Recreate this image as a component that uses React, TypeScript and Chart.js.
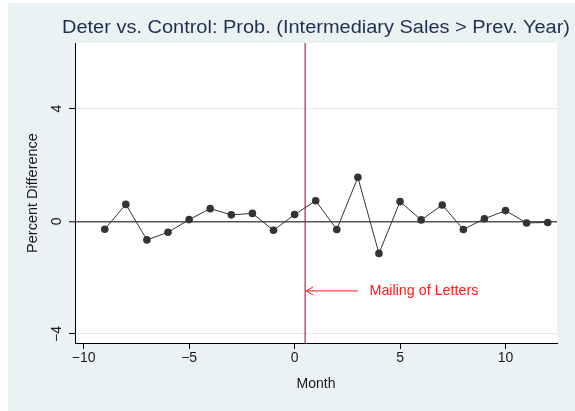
import React, { useEffect, useRef } from "react";
import { Chart, registerables } from "chart.js";

Chart.register(...registerables);

const TITLE = "Deter vs. Control: Prob. (Intermediary Sales > Prev. Year)";
const Y_TITLE = "Percent Difference";
const X_TITLE = "Month";
const ANNOT_TEXT = "Mailing of Letters";

const months = [-9, -8, -7, -6, -5, -4, -3, -2, -1, 0, 1, 2, 3, 4, 5, 6, 7, 8, 9, 10, 11, 12];
const pctDiff = [
  -0.28, 0.6, -0.66, -0.39, 0.06, 0.45, 0.23, 0.28, -0.32, 0.24, 0.73,
  -0.29, 1.56, -1.14, 0.7, 0.05, 0.58, -0.29, 0.09, 0.38, -0.06, -0.04,
];
const xTicks = [-10, -5, 0, 5, 10];
const yTicks = [-4, 0, 4];
const X_MIN = -10.41;
const X_MAX = 12.44;
const Y_MIN = -4.32;
const Y_MAX = 6.33;
const EVENT_MONTH = 0.5;
const ARROW_TAIL_X = 3.0;
const ANNOT_TEXT_X = 3.55;
const ANNOT_Y = -2.47;

const FONT = '"Liberation Sans", Arial, Helvetica, sans-serif';
const BG = "#eaf2f3";
const TITLE_COLOR = "#1f2f4f";
const TEXT_COLOR = "#1a1a1a";
const RED_LINE = "#c0203f";
const RED_TEXT = "#ff1a1a";
const SERIES = "#333333";

const minus = (v: number | string) => String(v).replace("-", "\u2212");

const annotPlugin = {
  id: "annotPlugin",
  beforeDraw(chart: any) {
    const { ctx, chartArea } = chart;
    ctx.save();
    ctx.fillStyle = "#ffffff";
    ctx.fillRect(chartArea.left, chartArea.top, chartArea.right - chartArea.left, chartArea.bottom - chartArea.top);
    ctx.restore();
  },
  beforeDatasetsDraw(chart: any) {
    const { ctx, chartArea, scales } = chart;
    const px = scales.x.getPixelForValue(EVENT_MONTH);
    ctx.save();
    ctx.strokeStyle = RED_LINE;
    ctx.lineWidth = 1.2;
    ctx.beginPath();
    ctx.moveTo(px, chartArea.top);
    ctx.lineTo(px, chartArea.bottom);
    ctx.stroke();
    ctx.restore();
  },
  afterDraw(chart: any) {
    const { ctx, chartArea, scales } = chart;
    const x = scales.x;
    const y = scales.y;
    const tip = x.getPixelForValue(EVENT_MONTH) + 1;
    const tail = x.getPixelForValue(ARROW_TAIL_X);
    const ay = y.getPixelForValue(ANNOT_Y);
    ctx.save();
    ctx.strokeStyle = RED_TEXT;
    ctx.lineWidth = 1;
    ctx.beginPath();
    ctx.moveTo(tail, ay);
    ctx.lineTo(tip, ay);
    ctx.moveTo(tip + 7, ay - 4);
    ctx.lineTo(tip, ay);
    ctx.lineTo(tip + 7, ay + 4);
    ctx.stroke();
    ctx.fillStyle = RED_TEXT;
    ctx.font = `14.3px ${FONT}`;
    ctx.textAlign = "left";
    ctx.textBaseline = "middle";
    ctx.fillText(ANNOT_TEXT, x.getPixelForValue(ANNOT_TEXT_X), ay);

    const cx = (chartArea.left + chartArea.right) / 2;
    const cy = (chartArea.top + chartArea.bottom) / 2;

    ctx.save();
    ctx.fillStyle = TITLE_COLOR;
    ctx.font = `18px ${FONT}`;
    ctx.textAlign = "center";
    ctx.translate(cx, 25);
    ctx.scale(1.11, 1);
    ctx.fillText(TITLE, 0, 0);
    ctx.restore();

    ctx.fillStyle = TEXT_COLOR;
    ctx.font = `14px ${FONT}`;
    ctx.textAlign = "center";
    ctx.fillText(X_TITLE, cx, 381);

    ctx.font = `14.5px ${FONT}`;
    ctx.translate(25, cy);
    ctx.rotate(-Math.PI / 2);
    ctx.fillText(Y_TITLE, 0, 0);
    ctx.restore();
  },
};

export default function App() {
  const ref = useRef<HTMLCanvasElement | null>(null);
  useEffect(() => {
    if (!ref.current) return;
    const chart = new Chart(ref.current, {
      type: "line",
      data: {
        datasets: [
          {
            data: months.map((m, i) => ({ x: m, y: pctDiff[i] })),
            borderColor: SERIES,
            backgroundColor: SERIES,
            borderWidth: 1,
            pointRadius: 3.8,
            pointBorderWidth: 0,
            pointBackgroundColor: SERIES,
            tension: 0,
          },
        ],
      },
      options: {
        animation: false,
        responsive: false,
        maintainAspectRatio: false,
        layout: { padding: { top: 40, right: 18, bottom: 0, left: 0 }, autoPadding: false },
        plugins: { legend: { display: false }, title: { display: false }, tooltip: { enabled: false } },
        font: { family: FONT },
        scales: {
          x: {
            type: "linear",
            min: X_MIN,
            max: X_MAX,
            afterBuildTicks: (s: any) => {
              s.ticks = xTicks.map((v) => ({ value: v }));
            },
            afterFit: (s: any) => {
              s.height = 68;
            },
            border: { display: true, color: "#000", width: 1 },
            grid: { display: true, drawOnChartArea: false, drawTicks: true, tickLength: 6, tickColor: "#000", tickWidth: 1 },
            ticks: {
              autoSkip: false,
              maxRotation: 0,
              minRotation: 0,
              padding: 1,
              color: TEXT_COLOR,
              font: { family: FONT, size: 14 },
              callback: (v: any) => minus(v),
            },
          },
          y: {
            type: "linear",
            min: Y_MIN,
            max: Y_MAX,
            afterBuildTicks: (s: any) => {
              s.ticks = yTicks.map((v) => ({ value: v }));
            },
            afterFit: (s: any) => {
              s.width = 67;
            },
            border: { display: true, color: "#000", width: 1 },
            grid: {
              display: true,
              drawOnChartArea: true,
              drawTicks: true,
              tickLength: 6,
              tickColor: "#000",
              tickWidth: 1,
              color: (c: any) => (c.tick && c.tick.value === 0 ? "#555555" : "#e2ecef"),
              lineWidth: (c: any) => (c.tick && c.tick.value === 0 ? 1.6 : 1),
            },
            ticks: {
              autoSkip: false,
              minRotation: 90,
              maxRotation: 90,
              crossAlign: "center",
              padding: 4,
              color: TEXT_COLOR,
              font: { family: FONT, size: 14 },
              callback: (v: any) => minus(v),
            },
          },
        },
      } as any,
      plugins: [annotPlugin],
    });
    return () => chart.destroy();
  }, []);

  return (
    <div
      style={{
        position: "absolute",
        left: 8,
        top: 3,
        width: 567,
        height: 408,
        background: BG,
      }}
    >
      <canvas ref={ref} width={567} height={408} style={{ display: "block", width: 567, height: 408 }} />
    </div>
  );
}
